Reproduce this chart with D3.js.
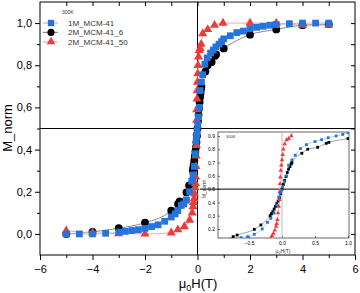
<!DOCTYPE html>
<html lang="en">
<head>
    <meta charset="UTF-8">
    <title>M_norm vs field</title>
    <script src="https://d3js.org/d3.v7.min.js"></script>
    <style>
        body { margin: 0; background: #fff; }
        svg { display: block; font-family: "Liberation Sans", Arial, sans-serif; }
        .axis path, .axis line { stroke: #000; }
        .axis text { fill: #000; }
    </style>
</head>
<body>
<script>
    const width = 360;
    const height = 293;

    // 1M_MCM-41 (blue squares)
    const blueX = [-5,-4.5,-4,-3.5,-3,-2.75,-2.5,-2.25,-2,-1.75,-1.5,-1.25,-1,-0.85,-0.75,-0.62,-0.52,-0.42,-0.3,-0.22,-0.17,-0.12,-0.08,-0.05,-0.03,-0.01,0.01,0.035,0.07,0.1,0.15,0.2,0.28,0.37,0.5,0.6,0.7,0.82,0.92,1.0,1.25,1.5,1.75,2,2.25,2.5,2.75,3,3.5,4,4.5,5];
    const blueY = [0.0,0.0,0.0,0.003,0.008,0.012,0.016,0.02,0.026,0.035,0.043,0.06,0.08,0.095,0.11,0.135,0.142,0.16,0.2,0.25,0.28,0.32,0.38,0.44,0.47,0.49,0.52,0.555,0.6,0.68,0.72,0.755,0.805,0.835,0.858,0.872,0.887,0.9,0.912,0.925,0.94,0.955,0.962,0.973,0.98,0.985,0.99,0.993,0.997,1.0,1.0,1.0];

    // 2M_MCM-41_6 (black circles)
    const blackX = [-5,-4,-3,-2,-1,-0.74,-0.68,-0.42,-0.32,-0.18,-0.16,-0.14,-0.12,-0.1,-0.08,-0.06,-0.04,-0.02,0,0.02,0.04,0.06,0.08,0.1,0.12,0.14,0.15,0.3,0.39,0.54,0.67,0.71,1.0,2,3,4,5];
    const blackY = [0.0,0.01,0.027,0.053,0.11,0.142,0.154,0.197,0.23,0.3,0.315,0.33,0.35,0.37,0.39,0.41,0.435,0.465,0.5,0.535,0.565,0.595,0.625,0.65,0.67,0.69,0.7,0.77,0.8,0.815,0.845,0.852,0.88,0.945,0.97,0.99,0.995];

    // 2M_MCM-41_50 (red triangles)
    const redX = [-5,-4,-3,-2,-1,-0.75,-0.5,-0.3,-0.2,-0.17,-0.15,-0.13,-0.11,-0.09,-0.08,-0.07,-0.06,-0.05,-0.04,-0.035,-0.03,-0.025,-0.02,-0.01,0,0.01,0.02,0.04,0.07,0.1,0.14,0.2,0.39,0.65,0.97,2,3,4,5];
    const redY = [0.015,0.005,0.002,0.0,0.005,0.02,0.035,0.066,0.1,0.13,0.15,0.167,0.19,0.22,0.24,0.27,0.32,0.37,0.42,0.48,0.54,0.59,0.64,0.68,0.72,0.76,0.8,0.84,0.87,0.88,0.9,0.95,0.97,0.99,1.0,1.0,1.0,0.99,0.99];

    const seriesNames = ["1M_MCM-41", "2M_MCM-41_6", "2M_MCM-41_50"];
    const xTicks = [-6,-4,-2,0,2,4,6];
    const yTicks = [0,0.2,0.4,0.6,0.8,1.0];
    const insetXTicks = [-0.5,0,0.5,1.0];
    const insetYTicks = [0.2,0.3,0.4,0.5,0.6,0.7,0.8,0.9];

    const series = [
        {name: seriesNames[1], xs: blackX, ys: blackY, color: "#000", line: "#8a8a8a", shape: "circle", inShape: "square"},
        {name: seriesNames[2], xs: redX, ys: redY, color: "#f03a3a", line: "#f5a5a5", shape: "triangle", inShape: "triangle"},
        {name: seriesNames[0], xs: blueX, ys: blueY, color: "#2474dc", line: "#a3c4ee", shape: "square", inShape: "square"}
    ];
    series.forEach(s => s.pts = s.xs.map((x, i) => [x, s.ys[i]]));

    const svg = d3.select("body").append("svg")
        .attr("width", width).attr("height", height);

    const x = d3.scaleLinear().domain([-6, 6]).range([40, 355]);
    const y = d3.scaleLinear().domain([-0.1, 1.1]).range([255, 2]);
    const comma = d => d3.format(".1f")(d).replace(".", ",");

    function symbolFor(shape, size) {
        const t = shape === "circle" ? d3.symbolCircle : shape === "triangle" ? d3.symbolTriangle : d3.symbolSquare;
        return d3.symbol().type(t).size(size)();
    }

    svg.append("clipPath").attr("id", "mainClip")
        .append("rect").attr("x", 40).attr("y", 2).attr("width", 315).attr("height", 253);

    // axes
    svg.append("g").attr("class", "axis")
        .attr("transform", "translate(0,255)")
        .call(d3.axisBottom(x).tickValues(xTicks).tickSize(5).tickFormat(d3.format("d")))
        .call(g => g.selectAll("text").attr("font-size", 11).attr("dy", "0.95em"))
        .call(g => g.select(".domain").remove());
    svg.append("g").attr("class", "axis")
        .attr("transform", "translate(0,255)")
        .call(d3.axisBottom(x).tickValues([-5,-3,-1,1,3,5]).tickSize(3).tickFormat(""))
        .call(g => g.select(".domain").remove());
    svg.append("g").attr("class", "axis")
        .attr("transform", "translate(40,0)")
        .call(d3.axisLeft(y).tickValues(yTicks).tickSize(5).tickFormat(comma))
        .call(g => g.selectAll("text").attr("font-size", 11))
        .call(g => g.select(".domain").remove());
    svg.append("g").attr("class", "axis")
        .attr("transform", "translate(40,0)")
        .call(d3.axisLeft(y).tickValues([0.1,0.3,0.5,0.7,0.9]).tickSize(3).tickFormat(""))
        .call(g => g.select(".domain").remove());
    svg.append("g").attr("class", "axis")
        .attr("transform", "translate(0,2)")
        .call(d3.axisTop(x).tickValues(d3.range(-5, 6)).tickSize(-4).tickFormat(""))
        .call(g => g.select(".domain").remove());
    svg.append("g").attr("class", "axis")
        .attr("transform", "translate(355,0)")
        .call(d3.axisRight(y).tickValues(d3.range(0, 11).map(d => d / 10)).tickSize(-4).tickFormat(""))
        .call(g => g.select(".domain").remove());

    svg.append("rect").attr("x", 40).attr("y", 2).attr("width", 315).attr("height", 253)
        .attr("fill", "none").attr("stroke", "#000").attr("stroke-width", 1);

    // reference lines
    svg.append("line").attr("x1", 40).attr("x2", 355).attr("y1", y(0.5)).attr("y2", y(0.5))
        .attr("stroke", "#000").attr("stroke-width", 1);
    svg.append("line").attr("x1", x(0)).attr("x2", x(0)).attr("y1", 2).attr("y2", 255)
        .attr("stroke", "#000").attr("stroke-width", 1);

    // curves + markers
    const plot = svg.append("g").attr("clip-path", "url(#mainClip)");
    const line = d3.line().x(d => x(d[0])).y(d => y(d[1])).curve(d3.curveMonotoneX);
    series.forEach(s => {
        plot.append("path").attr("d", line(s.pts)).attr("fill", "none")
            .attr("stroke", s.line).attr("stroke-width", 1);
    });
    series.forEach(s => {
        const sz = s.shape === "circle" ? 48 : s.shape === "triangle" ? 36 : 46;
        plot.selectAll(null).data(s.pts).enter().append("path")
            .attr("d", symbolFor(s.shape, sz))
            .attr("transform", d => `translate(${x(d[0])},${y(d[1])})`)
            .attr("fill", s.color);
    });

    // labels
    svg.append("text").attr("transform", "translate(12,128) rotate(-90)")
        .attr("text-anchor", "middle").attr("font-size", 13).text("M_norm");
    const xl = svg.append("text").attr("x", 198).attr("y", 288)
        .attr("text-anchor", "middle").attr("font-size", 13);
    xl.append("tspan").text("μ");
    xl.append("tspan").attr("font-size", 9).attr("dy", 3).text("0");
    xl.append("tspan").attr("dy", -3).text("H(T)");

    // legend
    svg.append("text").attr("x", 62).attr("y", 14).attr("font-size", 5).attr("fill", "#333").text("300K");
    const legOrder = [series[2], series[0], series[1]];
    legOrder.forEach((s, i) => {
        const ly = 23 + i * 9.4;
        svg.append("line").attr("x1", 43).attr("x2", 58).attr("y1", ly).attr("y2", ly)
            .attr("stroke", s.line).attr("stroke-width", 1.2);
        svg.append("path").attr("d", symbolFor(s.shape, s.shape === "triangle" ? 32 : 40))
            .attr("transform", `translate(51,${ly})`).attr("fill", s.color);
        svg.append("text").attr("x", 68).attr("y", ly + 3).attr("font-size", 8)
            .attr("fill", "#333").text(s.name);
    });

    // inset
    const xi = d3.scaleLinear().domain([-0.97, 1.015]).range([218, 349]);
    const yi = d3.scaleLinear().domain([0.132, 0.93]).range([238, 132]);
    const inset = svg.append("g");
    inset.append("rect").attr("x", 218).attr("y", 132).attr("width", 131).attr("height", 106)
        .attr("fill", "#fff");
    inset.append("clipPath").attr("id", "insetClip")
        .append("rect").attr("x", 218).attr("y", 132).attr("width", 131).attr("height", 106);

    inset.append("g").attr("class", "axis").attr("transform", "translate(0,238)")
        .call(d3.axisBottom(xi).tickValues(insetXTicks).tickSize(-2).tickPadding(3).tickFormat(d3.format(".1f")))
        .call(g => g.selectAll("text").attr("font-size", 5).attr("fill", "#333"))
        .call(g => g.select(".domain").remove());
    inset.append("g").attr("class", "axis").attr("transform", "translate(218,0)")
        .call(d3.axisLeft(yi).tickValues(insetYTicks).tickSize(-2).tickPadding(3).tickFormat(d3.format(".1f")))
        .call(g => g.selectAll("text").attr("font-size", 5).attr("fill", "#333"))
        .call(g => g.select(".domain").remove());
    inset.selectAll(".tick line").attr("stroke-width", 0.6);

    inset.append("rect").attr("x", 218).attr("y", 132).attr("width", 131).attr("height", 106)
        .attr("fill", "none").attr("stroke", "#444").attr("stroke-width", 0.8);

    inset.append("line").attr("x1", xi(0)).attr("x2", xi(0)).attr("y1", 132).attr("y2", 238)
        .attr("stroke", "#bbb").attr("stroke-width", 1);
    inset.append("line").attr("x1", 200).attr("x2", 349).attr("y1", yi(0.5)).attr("y2", yi(0.5))
        .attr("stroke", "#000").attr("stroke-width", 1);

    const iplot = inset.append("g").attr("clip-path", "url(#insetClip)");
    const iline = d3.line().x(d => xi(d[0])).y(d => yi(d[1])).curve(d3.curveMonotoneX);
    series.forEach(s => {
        iplot.append("path").attr("d", iline(s.pts)).attr("fill", "none")
            .attr("stroke", s.line).attr("stroke-width", 0.8);
    });
    series.forEach(s => {
        iplot.selectAll(null).data(s.pts).enter().append("path")
            .attr("d", symbolFor(s.inShape, s.inShape === "triangle" ? 9 : 8))
            .attr("transform", d => `translate(${xi(d[0])},${yi(d[1])})`)
            .attr("fill", s.color);
    });

    inset.append("text").attr("x", 226).attr("y", 138).attr("font-size", 4).attr("fill", "#333").text("300K");
    inset.append("text").attr("transform", "translate(206,189) rotate(-90)")
        .attr("text-anchor", "middle").attr("font-size", 5).attr("fill", "#333").text("M_norm");
    const il = inset.append("text").attr("x", 283).attr("y", 253)
        .attr("text-anchor", "middle").attr("font-size", 5).attr("fill", "#333");
    il.append("tspan").text("μ");
    il.append("tspan").attr("font-size", 3.5).attr("dy", 1).text("0");
    il.append("tspan").attr("dy", -1).text("H(T)");
</script>
</body>
</html>
